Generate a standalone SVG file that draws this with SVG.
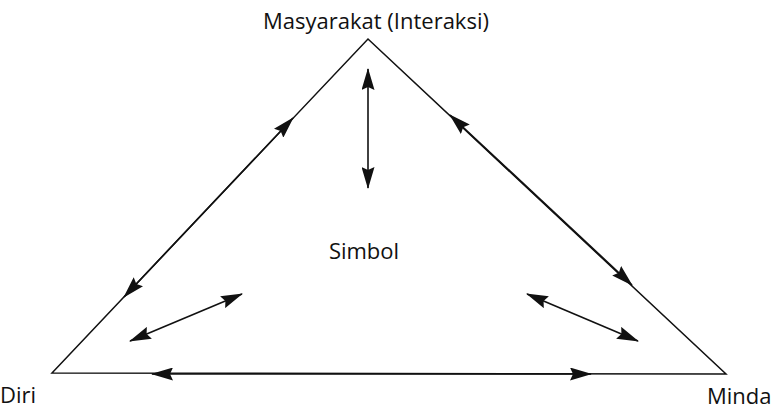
<svg xmlns="http://www.w3.org/2000/svg" width="774" height="410" viewBox="0 0 774 410">
  <style>
    .lbl { font-family: "Open Sans", "Noto Sans", "Liberation Sans", sans-serif; font-size: 22px; fill: #111; }
    .edge { stroke: #111; stroke-width: 1.5; fill: none; }
    .conn { stroke: #111; stroke-width: 1.6; fill: none; marker-start: url(#arr); marker-end: url(#arr); }
  </style>
  <defs>
    <marker id="arr" markerUnits="userSpaceOnUse" markerWidth="22" markerHeight="13" refX="21" refY="6.5" orient="auto-start-reverse" viewBox="0 0 22 13">
      <path d="M0,0 L22,6.5 L0,13 L3,6.5 z" fill="#111"/>
    </marker>
  </defs>
  <rect width="774" height="410" fill="#fff"/>
  <g id="connectors">
    <path class="edge" d="M52,373 L368,39 L726,374 Z"/>
    <path class="conn" d="M124,297 L293,118"/>
    <path class="conn" d="M450,115 L632,285"/>
    <path class="conn" d="M152,374 L591,374"/>
    <path class="conn" d="M368,69 L368,188"/>
    <path class="conn" d="M130,341 L242,294"/>
    <path class="conn" d="M527,294 L638,341"/>
  </g>
  <g id="node-masyarakat">
    <text class="lbl" x="376" y="29" text-anchor="middle">Masyarakat (Interaksi)</text>
  </g>
  <g id="node-simbol">
    <text class="lbl" x="364" y="259" text-anchor="middle">Simbol</text>
  </g>
  <g id="node-diri">
    <text class="lbl" x="0" y="403">Diri</text>
  </g>
  <g id="node-minda">
    <text class="lbl" x="707" y="404">Minda</text>
  </g>
</svg>
